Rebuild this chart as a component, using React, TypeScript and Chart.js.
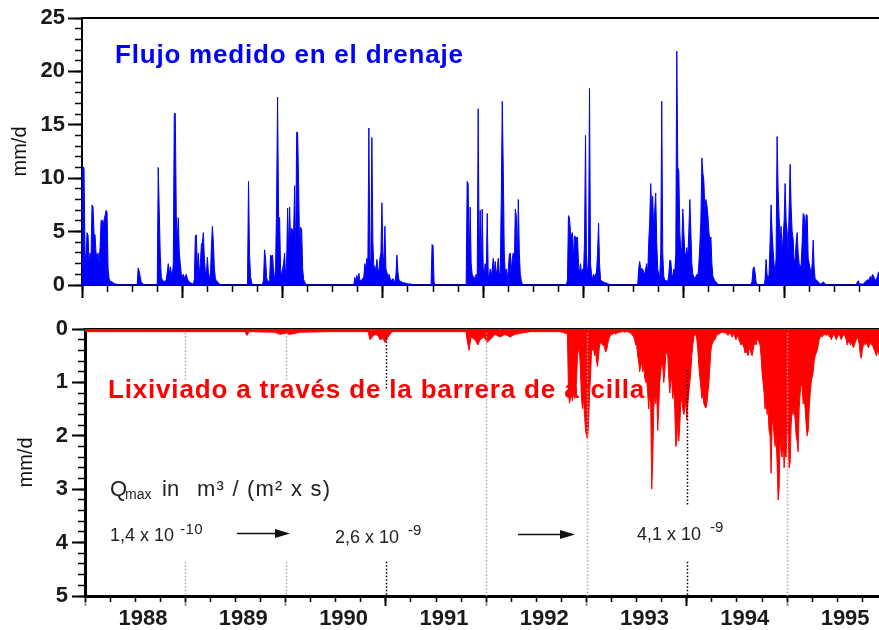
import React, { useEffect, useRef } from 'react';
import { Chart, registerables } from 'chart.js';

Chart.register(...registerables);
Chart.defaults.font.family = '"Liberation Sans", Arial, Helvetica, sans-serif';
Chart.defaults.color = '#111';

// ---------- axes ----------
const YEARS = [1988, 1989, 1990, 1991, 1992, 1993, 1994, 1995];
const QUARTERS = [
  1988, 1988.25, 1988.5, 1988.75, 1989, 1989.25, 1989.5, 1989.75, 1990, 1990.25, 1990.5, 1990.75,
  1991, 1991.25, 1991.5, 1991.75, 1992, 1992.25, 1992.5, 1992.75, 1993, 1993.25, 1993.5, 1993.75,
  1994, 1994.25, 1994.5, 1994.75, 1995, 1995.25, 1995.5, 1995.75,
];
const FLOW_TICKS = [0, 5, 10, 15, 20, 25];
const FLOW_MINOR = [0, 1, 2, 3, 4, 5, 6, 7, 8, 9, 10, 11, 12, 13, 14, 15, 16, 17, 18, 19, 20, 21, 22, 23, 24, 25];
const LEACH_TICKS = [0, 1, 2, 3, 4, 5];
const LEACH_MINOR = [0, 0.2, 0.4, 0.6, 0.8, 1, 1.2, 1.4, 1.6, 1.8, 2, 2.2, 2.4, 2.6, 2.8, 3, 3.2, 3.4, 3.6, 3.8, 4, 4.2, 4.4, 4.6, 4.8, 5];

// ---------- data: samples every STEP years (~3.65 days) ----------
const STEP = 0.01;

// Flujo medido en el drenaje (mm/d), wet seasons
const flow88a = [11.0, 11.0, 11.0, 3, 2.5, 4.9, 4.7, 2, 3, 2.5, 7.5, 7.3, 4.8, 4.7, 3, 2.5, 3, 2, 3.5, 6.0, 6.1, 5.5, 6.1, 6.5, 7.0, 6.8, 1.5, 0.6, 0.4, 0.3, 0.3, 0.2, 0.15, 0.1, 0.1, 0.05, 0];
const flow88b = [0, 1.6, 1.3, 0.8, 0.3, 0.2, 0.1, 0];
const flow88c = [0, 11.0, 7, 2.9, 0.8, 0.5, 0.4, 0.3, 0.4, 0.5, 1.2, 2.0, 1.0, 1.7, 1.2, 0.8, 2, 16.0, 16.1, 6.5, 4, 6.3, 3, 2, 1, 0.8, 1.0, 0.7, 0.8, 1, 0.6, 0.4, 0.3, 0.2, 0.2, 0.1, 0.1, 0.5, 4.6, 4.7, 1.5, 3, 1, 2, 3.8, 4.0, 4.9, 2.5, 1.2, 1, 2.6, 1.2, 0.8, 0.6, 3.6, 5.5, 4, 1.5, 0.6, 0.4, 0.3, 0.2, 0.1, 0.05, 0];
const flow89a = [0, 9.7, 3, 0.8, 0.3, 0];
const flow89b = [0, 0.5, 3.3, 2.5, 0.8, 0.3, 0.3, 0.5, 2.8, 2.7, 2.8, 1.2, 0.5, 1.7, 7.7, 17.6, 6.4, 6.3, 1.5, 0.8, 1.5, 2, 3, 0.8, 2, 7.2, 3, 7.3, 4, 5.3, 5.2, 5, 9.3, 2, 14.3, 14.3, 9.2, 3, 5.4, 5.2, 1.5, 0.5, 0.3, 0.1, 0.05, 0];
const flow90 = [0, 0.7, 0.3, 0.9, 0.4, 1.1, 0.5, 0.4, 0.5, 0.6, 0.8, 2.0, 1.5, 2.5, 2.0, 14.7, 2.3, 2.5, 13.8, 4, 1.5, 1.8, 1.2, 2.4, 1.5, 1.2, 2.5, 3, 7.7, 3, 2, 5.5, 1.5, 1.2, 0.8, 1, 0.7, 0.5, 0.4, 0.6, 0.4, 0.3, 1, 2.8, 1.2, 0.5, 0.4, 0.3, 0.3, 0.2, 0.2, 0.2, 0.15, 0.15, 0.1, 0.1, 0.1, 0.1, 0.05, 0.05, 0.05, 0];
const flow91a = [0, 3.8, 3.7, 0.3, 0];
const flow91b = [0, 9.7, 9.5, 2, 7.3, 2, 1, 0.8, 0.5, 0.8, 1, 0.8, 16.5, 2, 7, 1, 7.1, 1.5, 1.2, 2, 0.8, 6.7, 1, 0.8, 1.5, 0.8, 1.5, 2.5, 1.2, 2.2, 1, 1.5, 2.5, 1, 1.2, 8, 17.2, 10.8, 3, 1, 1.5, 0.5, 1.5, 2.8, 3, 1.2, 2.5, 3.0, 1.5, 7.1, 6.5, 2, 8.0, 3, 1, 0.4, 0.1, 0];
const flow92 = [0, 0.5, 6.5, 6.3, 5, 4.5, 4.9, 2.5, 4.6, 4.5, 4.4, 4.5, 2, 1, 2.0, 1, 1.5, 1.2, 4, 14.0, 2, 1, 3, 18.4, 2, 1, 0.5, 1, 0.8, 1, 1.2, 3, 5.8, 2, 0.5, 0.4, 0.3, 0.3, 0.2, 0.2, 0.2, 0.1, 0.1, 0.05, 0.05, 0];
const flow93 = [0, 1.5, 2.2, 1.6, 1.5, 1.5, 1.2, 1.0, 1.5, 2, 1, 4, 6, 9.5, 7, 8.3, 5, 7, 8.6, 4, 1.5, 1, 0.8, 3, 17.2, 3, 0.8, 0.5, 0.4, 0.4, 0.3, 1, 2.3, 2.3, 1, 0.8, 1.5, 1.2, 3, 21.9, 11, 10.7, 5, 3, 3.5, 7.1, 5, 3, 2.8, 3.5, 2.5, 5, 8.0, 5, 2, 1, 0.8, 0.6, 0.8, 1, 0.8, 2, 3.8, 6, 11.9, 10.5, 9.7, 7, 8, 7.5, 6.5, 5, 4, 4.5, 2, 0.8, 0.6, 0.4, 0.3, 0.2, 0.1, 0];
const flow94 = [0, 0.1, 0.3, 1.5, 1.7, 1.2, 0.3, 0.1, 0, 0, 0, 0, 0, 0, 0, 0.5, 2.4, 1.0, 0.5, 1, 4, 7.5, 5, 3.3, 2, 1, 2.5, 13.9, 9, 6.3, 4, 5.5, 3, 4.5, 6, 9.5, 6, 5, 3, 7, 11.3, 7.3, 5, 4.3, 2, 2.5, 4, 4.9, 3, 2, 1.5, 2, 4, 6.7, 6.5, 5, 6.6, 6.5, 2.5, 2, 1.5, 1, 2, 4.2, 1.5, 0.5, 0.5, 0.4, 0.3, 0.2, 0.1, 0.1, 0.2, 0.3, 0.2, 0.1, 0];
const flow95 = [0, 0.3, 0.4, 0.1, 0.1, 0.1, 0.1, 0.1, 0.2, 0.3, 0.4, 0.5, 0.4, 0.6, 0.8, 0.5, 1.0, 0.9, 0.6, 0.5, 0.5, 0.8, 1.2, 1.2];
const flowSeasonStarts = [1988.0, 1988.55, 1988.75, 1989.65, 1989.8, 1990.71, 1991.48, 1991.83, 1992.83, 1993.54, 1994.66, 1995.72];
const flowSeasons = [flow88a, flow88b, flow88c, flow89a, flow89b, flow90, flow91a, flow91b, flow92, flow93, flow94, flow95];

// Lixiviado a través de la barrera (mm/d)
const leachEarlyYears = [1988.0, 1988.65, 1989.15, 1989.595, 1989.615, 1989.635, 1989.894, 1989.944, 1989.994, 1990.044, 1990.144, 1990.443, 1990.822, 1990.842, 1990.862, 1990.891, 1990.921, 1990.941, 1990.971, 1990.991, 1991.021, 1991.061, 1991.44, 1991.799, 1991.809, 1991.829, 1991.848, 1991.888, 1991.918, 1991.938, 1991.978, 1992.008, 1992.038, 1992.088, 1992.138, 1992.187, 1992.237, 1992.287, 1992.337, 1992.437, 1992.736, 1992.796];
const leachEarlyValues = [0.05, 0.05, 0.05, 0.05, 0.12, 0.05, 0.06, 0.1, 0.08, 0.1, 0.06, 0.05, 0.05, 0.2, 0.15, 0.1, 0.12, 0.2, 0.18, 0.25, 0.15, 0.05, 0.05, 0.05, 0.2, 0.4, 0.15, 0.2, 0.3, 0.2, 0.15, 0.25, 0.2, 0.1, 0.15, 0.1, 0.15, 0.1, 0.08, 0.05, 0.05, 0.08];
const leach92 = [0.1, 1.2, 1.39, 1.3, 1.2, 1.35, 1.1, 1.3, 1.2, 1.0, 0.5, 0.4, 0.4, 0.8, 1.3, 1.5, 1.3, 1.6, 1.9, 2.0, 2.05, 1.8, 1.2, 0.9, 0.4, 0.4, 0.35, 0.5, 0.4, 0.6, 0.7, 0.5, 0.3, 0.27, 0.25, 0.3, 0.3, 0.35, 0.43, 0.4, 0.3, 0.2, 0.15, 0.12, 0.1, 0.1, 0.08, 0.08, 0.1, 0.08, 0.07, 0.07, 0.06, 0.06, 0.05, 0.05, 0.05, 0.06, 0.05, 0.05, 0.05, 0.06, 0.07, 0.08, 0.1, 0.12, 0.15, 0.2, 0.3];
const leach93 = [0.3, 0.5, 0.6, 0.8, 0.7, 0.6, 0.8, 0.7, 0.9, 1.0, 0.95, 1.2, 1.5, 1.2, 1.4, 3.0, 2.5, 1.5, 1.2, 1.4, 1.2, 1.9, 1.5, 1.0, 0.8, 0.6, 0.7, 1.0, 0.8, 0.5, 0.4, 0.5, 0.9, 1.2, 1.0, 0.9, 1.3, 1.1, 1.5, 2.2, 2.1, 1.6, 2.1, 1.8, 1.4, 1.3, 1.5, 1.6, 1.5, 1.3, 1.7, 1.4, 1.2, 1.0, 0.8, 0.5, 0.3, 0.15, 0.1, 0.1, 0.2, 0.4, 0.7, 0.9, 1.1, 1.3, 1.2, 1.4, 1.45, 1.48, 1.4, 1.2, 1.0, 0.7, 0.4, 0.3, 0.25, 0.2, 0.2, 0.15, 0.12, 0.1, 0.1, 0.08, 0.07, 0.06, 0.06];
const leach94 = [0.06, 0.07, 0.08, 0.1, 0.12, 0.1, 0.08, 0.1, 0.15, 0.12, 0.1, 0.15, 0.2, 0.15, 0.12, 0.2, 0.25, 0.3, 0.25, 0.3, 0.35, 0.45, 0.4, 0.45, 0.5, 0.4, 0.35, 0.45, 0.5, 0.4, 0.3, 0.25, 0.3, 0.2, 0.2, 0.25, 0.3, 0.5, 0.8, 1.0, 1.2, 1.5, 1.3, 1.6, 1.5, 1.9, 2.0, 2.7, 1.8, 1.7, 2.0, 2.2, 2.0, 2.5, 3.2, 3.0, 2.0, 2.3, 2.4, 2.0, 2.6, 2.3, 2.4, 1.8, 2.0, 2.6, 2.5, 1.8, 1.5, 1.6, 1.5, 1.7, 2.0, 2.1, 2.3, 1.5, 1.2, 1.0, 1.1, 1.4, 1.3, 1.5, 1.8, 2.0, 1.9, 1.5, 1.2, 1.0, 0.9, 0.8, 0.6, 0.5, 0.45, 0.4, 0.3, 0.2, 0.15, 0.12];
const leach95 = [0.15, 0.12, 0.1, 0.1, 0.12, 0.1, 0.1, 0.15, 0.12, 0.2, 0.15, 0.1, 0.12, 0.15, 0.2, 0.15, 0.12, 0.1, 0.15, 0.2, 0.15, 0.12, 0.1, 0.15, 0.2, 0.3, 0.25, 0.2, 0.3, 0.25, 0.3, 0.35, 0.3, 0.25, 0.2, 0.15, 0.2, 0.3, 0.5, 0.55, 0.4, 0.3, 0.25, 0.3, 0.25, 0.3, 0.35, 0.3, 0.25, 0.3, 0.3, 0.35, 0.4, 0.45, 0.5, 0.4, 0.45, 0.5, 0.45];
const leachSeasonStarts = [1992.81, 1993.5, 1994.37, 1995.35];
const leachSeasons = [leach92, leach93, leach94, leach95];

function seasonPoints(starts: number[], seasons: number[][]) {
  const pts: { x: number; y: number }[] = [];
  seasons.forEach((vals, k) => {
    vals.forEach((v, i) => pts.push({ x: +(starts[k] + i * STEP).toFixed(3), y: v }));
  });
  return pts;
}

const FONT = '"Liberation Sans", Arial, Helvetica, sans-serif';

// ---------- annotation plugin ----------
function notesPlugin(id: string, notes: any) {
  return {
    id,
    afterDatasetsDraw(chart: any) {
      const ctx = chart.ctx;
      const xs = chart.scales.x;
      const ys = chart.scales.y;
      ctx.save();
      (notes.lines || []).forEach((l: any) => {
        const px = Math.round(xs.getPixelForValue(l.x)) + 0.5;
        ctx.strokeStyle = l.color;
        ctx.lineWidth = 1.5;
        ctx.setLineDash([1.5, 2]);
        l.segments.forEach((s: number[]) => {
          ctx.beginPath();
          ctx.moveTo(px, ys.getPixelForValue(s[0]));
          ctx.lineTo(px, ys.getPixelForValue(s[1]));
          ctx.stroke();
        });
      });
      ctx.setLineDash([]);
      (notes.arrows || []).forEach((a: any) => {
        const x1 = xs.getPixelForValue(a.x1);
        const x2 = xs.getPixelForValue(a.x2);
        const y = Math.round(ys.getPixelForValue(a.y)) + 0.5;
        ctx.strokeStyle = '#111';
        ctx.fillStyle = '#111';
        ctx.lineWidth = 1.5;
        ctx.beginPath();
        ctx.moveTo(x1, y);
        ctx.lineTo(x2 - 8, y);
        ctx.stroke();
        ctx.beginPath();
        ctx.moveTo(x2, y);
        ctx.lineTo(x2 - 15, y - 4.5);
        ctx.lineTo(x2 - 15, y + 4.5);
        ctx.closePath();
        ctx.fill();
      });
      (notes.texts || []).forEach((t: any) => {
        ctx.font = t.font;
        ctx.fillStyle = t.color;
        ctx.letterSpacing = (t.spacing || 0) + 'px';
        ctx.textAlign = 'left';
        ctx.textBaseline = 'alphabetic';
        ctx.fillText(t.text, xs.getPixelForValue(t.x), ys.getPixelForValue(t.y));
        ctx.letterSpacing = '0px';
      });
      ctx.restore();
    },
  };
}

const topNotes = {
  texts: [
    { text: 'Flujo medido en el drenaje', x: 1988.329, y: 20.81, font: `bold 26px ${FONT}`, color: '#0000ff', spacing: 0.8 },
  ],
};

const GREY = '#a8a8a8';
const bottomNotes = {
  lines: [
    { x: 1989, color: GREY, segments: [[0.07, 0.95], [4.36, 5]] },
    { x: 1990, color: GREY, segments: [[0.07, 0.95], [4.36, 5]] },
    { x: 1991, color: '#000', segments: [[0.17, 1.14], [4.36, 5]] },
    { x: 1992, color: GREY, segments: [[0.07, 5]] },
    { x: 1993, color: GREY, segments: [[0.07, 5]] },
    { x: 1994, color: '#000', segments: [[0.77, 3.3], [4.36, 5]] },
    { x: 1995, color: GREY, segments: [[0.07, 5]] },
  ],
  arrows: [
    { x1: 1989.515, x2: 1990.044, y: 3.82 },
    { x1: 1992.317, x2: 1992.885, y: 3.839 },
  ],
  texts: [
    { text: 'Lixiviado a través de la barrera de arcilla', x: 1988.229, y: 1.292, font: `bold 26px ${FONT}`, color: '#ff0000', spacing: 0.83 },
    { text: 'Q', x: 1988.249, y: 3.127, font: `22px ${FONT}`, color: '#222' },
    { text: 'max', x: 1988.399, y: 3.184, font: `14px ${FONT}`, color: '#222' },
    { text: 'in', x: 1988.768, y: 3.127, font: `22px ${FONT}`, color: '#222' },
    { text: 'm³ / (m² x s)', x: 1989.117, y: 3.127, font: `22px ${FONT}`, color: '#222', spacing: 1.2 },
    { text: '1,4 x 10', x: 1988.249, y: 3.97, font: `18px ${FONT}`, color: '#222' },
    { text: '-10', x: 1988.947, y: 3.839, font: `15px ${FONT}`, color: '#222', spacing: 0.5 },
    { text: '2,6 x 10', x: 1990.493, y: 4.007, font: `18px ${FONT}`, color: '#222' },
    { text: '-9', x: 1991.22, y: 3.858, font: `15px ${FONT}`, color: '#222' },
    { text: '4,1 x 10', x: 1993.503, y: 3.951, font: `18px ${FONT}`, color: '#222' },
    { text: '-9', x: 1994.231, y: 3.801, font: `15px ${FONT}`, color: '#222' },
  ],
};

function setTicks(values: number[]) {
  return (s: any) => {
    s.ticks = values.map((v) => ({ value: v }));
  };
}

function buildScales(o: any) {
  return {
    x: {
      type: 'linear', position: 'bottom', min: 1988, max: o.xMax, bounds: 'data', weight: 1, z: 1,
      afterBuildTicks: setTicks(YEARS),
      afterFit: (s: any) => { s.height = o.xHeight; },
      ticks: {
        display: o.xLabels, autoSkip: false, maxRotation: 0, minRotation: 0, labelOffset: 58, padding: 0,
        font: { size: 22, weight: 'bold' }, color: '#1a1a1a', callback: (v: any) => String(v),
      },
      grid: { drawOnChartArea: false, tickLength: o.xMajorLen, tickWidth: 2, tickColor: o.xTickColor },
      border: { color: '#000', width: o.frame },
    },
    xMinor: {
      type: 'linear', position: 'bottom', min: 1988, max: o.xMax, bounds: 'data', weight: 0, z: 1,
      afterBuildTicks: setTicks(QUARTERS),
      afterFit: (s: any) => { s.height = 0; },
      ticks: { display: false },
      grid: { drawOnChartArea: false, tickLength: o.xMinorLen, tickWidth: 1.5, tickColor: '#000' },
      border: { display: false },
    },
    xTop: {
      type: 'linear', position: 'top', min: 1988, max: o.xMax, bounds: 'data', z: 1,
      afterFit: (s: any) => { s.height = 0; },
      ticks: { display: false },
      grid: { display: false },
      border: { display: true, color: '#000', width: o.frame },
    },
    y: {
      type: 'linear', position: 'left', min: 0, max: o.yMax, reverse: o.reverse, bounds: 'data', weight: 1, z: 1,
      afterBuildTicks: setTicks(o.yTicks),
      afterFit: (s: any) => { s.width = o.yWidth; },
      ticks: { autoSkip: false, font: { size: 22, weight: 'bold' }, color: '#1a1a1a', padding: o.yPad, callback: (v: any) => String(v) },
      grid: { drawOnChartArea: false, tickLength: o.yMajorLen, tickWidth: 2, tickColor: '#000' },
      border: { color: '#000', width: o.frame },
      title: { display: true, text: 'mm/d', font: { size: 20 }, color: '#111', padding: { top: o.titlePad, bottom: 0 } },
    },
    yMinor: {
      type: 'linear', position: 'left', min: 0, max: o.yMax, reverse: o.reverse, bounds: 'data', weight: 0, z: 1,
      afterBuildTicks: setTicks(o.yMinor),
      afterFit: (s: any) => { s.width = 0; },
      ticks: { display: false },
      grid: { drawOnChartArea: false, tickLength: 7, tickWidth: 1.5, tickColor: '#000' },
      border: { display: false },
    },
  };
}

function topConfig(): any {
  return {
    type: 'line',
    data: {
      datasets: [{
        data: seasonPoints(flowSeasonStarts, flowSeasons),
        borderColor: '#0000ff', backgroundColor: '#0000ff', borderWidth: 1,
        pointRadius: 0, tension: 0, fill: 'origin',
      }],
    },
    options: {
      responsive: false, animation: false, devicePixelRatio: 1,
      layout: { padding: { top: 18, left: 0, right: 0, bottom: 0 } },
      plugins: { legend: { display: false }, tooltip: { enabled: false }, title: { display: false } },
      scales: buildScales({
        xMax: 1995.946, xHeight: 25, xLabels: false, xMajorLen: 13, xMinorLen: 7, xTickColor: '#000', frame: 2,
        yMax: 25, reverse: false, yTicks: FLOW_TICKS, yMinor: FLOW_MINOR, yWidth: 82, yPad: 3, yMajorLen: 14, titlePad: 8,
      }),
    },
    plugins: [notesPlugin('topNotes', topNotes)],
  };
}

function bottomConfig(): any {
  const pts = leachEarlyYears.map((x, i) => ({ x, y: leachEarlyValues[i] }))
    .concat(seasonPoints(leachSeasonStarts, leachSeasons));
  return {
    type: 'line',
    data: {
      datasets: [{
        data: pts,
        borderColor: '#ff0000', backgroundColor: '#ff0000', borderWidth: 1,
        pointRadius: 0, tension: 0, fill: 'origin',
      }],
    },
    options: {
      responsive: false, animation: false, devicePixelRatio: 1,
      layout: { padding: { top: 29, left: 0, right: 0, bottom: 0 } },
      plugins: { legend: { display: false }, tooltip: { enabled: false }, title: { display: false } },
      scales: buildScales({
        xMax: 1995.916, xHeight: 34, xLabels: true, xMajorLen: 10, xMinorLen: 6,
        xTickColor: (c: any) => (c.tick && (c.tick.value === 1991 || c.tick.value === 1994) ? '#000' : '#999'),
        frame: 3,
        yMax: 5, reverse: true, yTicks: LEACH_TICKS, yMinor: LEACH_MINOR, yWidth: 85, yPad: 4, yMajorLen: 13, titlePad: 14,
      }),
    },
    plugins: [notesPlugin('bottomNotes', bottomNotes)],
  };
}

export default function App() {
  const topRef = useRef<HTMLCanvasElement>(null);
  const botRef = useRef<HTMLCanvasElement>(null);
  useEffect(() => {
    const top = new Chart(topRef.current as HTMLCanvasElement, topConfig());
    const bot = new Chart(botRef.current as HTMLCanvasElement, bottomConfig());
    return () => {
      top.destroy();
      bot.destroy();
    };
  }, []);
  return (
    <div style={{ position: 'absolute', left: 0, top: 0, width: 879, height: 630, background: '#fff' }}>
      <canvas ref={topRef} width={879} height={310} style={{ position: 'absolute', left: 0, top: 0, width: 879, height: 310 }} />
      <canvas ref={botRef} width={879} height={330} style={{ position: 'absolute', left: 0, top: 300, width: 879, height: 330 }} />
    </div>
  );
}
